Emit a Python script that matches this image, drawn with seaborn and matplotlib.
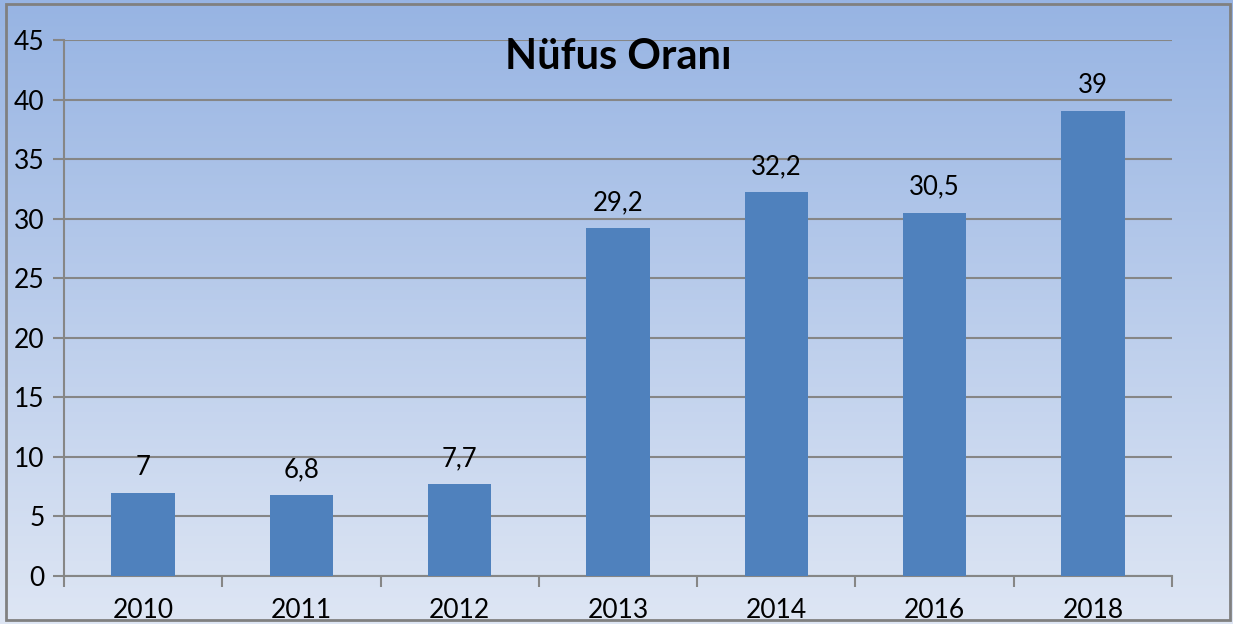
import numpy as np
import pandas as pd
import matplotlib.pyplot as plt
from matplotlib.colors import LinearSegmentedColormap
from matplotlib.patches import Rectangle
import seaborn as sns

years = ["2010", "2011", "2012", "2013", "2014", "2016", "2018"]
rates = [7, 6.8, 7.7, 29.2, 32.2, 30.5, 39]
labels = ["7", "6,8", "7,7", "29,2", "32,2", "30,5", "39"]

df = pd.DataFrame({"year": years, "rate": rates})

sns.set_style("white")
plt.rcParams['font.family'] = ['Lato', 'DejaVu Sans']

fig = plt.figure(figsize=(12.33, 6.24), dpi=100)

# gradient background over the whole figure
bg = fig.add_axes([0, 0, 1, 1], zorder=0)
grad = LinearSegmentedColormap.from_list("bg", ["#dee6f4", "#97b4e3"])
bg.imshow(np.linspace(0, 1, 256).reshape(-1, 1), aspect="auto", cmap=grad,
          origin="lower", extent=[0, 1, 0, 1])
bg.set_xlim(0, 1)
bg.set_ylim(0, 1)
bg.axis("off")
bg.add_patch(Rectangle((6 / 1233, 4 / 624), 1224 / 1233, 616 / 624, fill=False,
                       edgecolor="#808080", linewidth=2))

ax = fig.add_axes([64 / 1233, 48 / 624, 1108 / 1233, 536 / 624], zorder=1)
ax.patch.set_alpha(0)

sns.barplot(data=df, x="year", y="rate", color="#4f81bd", width=0.4,
            saturation=1, linewidth=0, ax=ax, zorder=3)

for i, (v, t) in enumerate(zip(rates, labels)):
    ax.text(i, v + 1.1, t, ha="center", va="bottom", fontsize=18.5, color="black")

ax.set_ylim(0, 45)
ax.set_xlim(-0.5, len(years) - 0.5)
ax.set_yticks(range(0, 46, 5))
ax.yaxis.grid(True, color="#868686", linewidth=1.5)
ax.set_axisbelow(True)
ax.set_xlabel("")
ax.set_ylabel("")

for s in ["top", "right"]:
    ax.spines[s].set_visible(False)
for s in ["left", "bottom"]:
    ax.spines[s].set_color("#868686")
    ax.spines[s].set_linewidth(1.5)

ax.tick_params(axis="y", left=True, length=8, width=1.5, color="#868686",
               labelsize=19, labelcolor="black", pad=6)
ax.tick_params(axis="x", length=0, labelsize=19, labelcolor="black", pad=16)
ax.set_xticks(np.arange(-0.5, len(years)), minor=True)
ax.tick_params(axis="x", which="minor", bottom=True, length=8, width=1.5,
               color="#868686", direction="out")

ax.set_title("Nüfus Oranı", fontsize=30, fontweight="bold", color="black", y=0.93)

fig.savefig("out.png", dpi=100)
